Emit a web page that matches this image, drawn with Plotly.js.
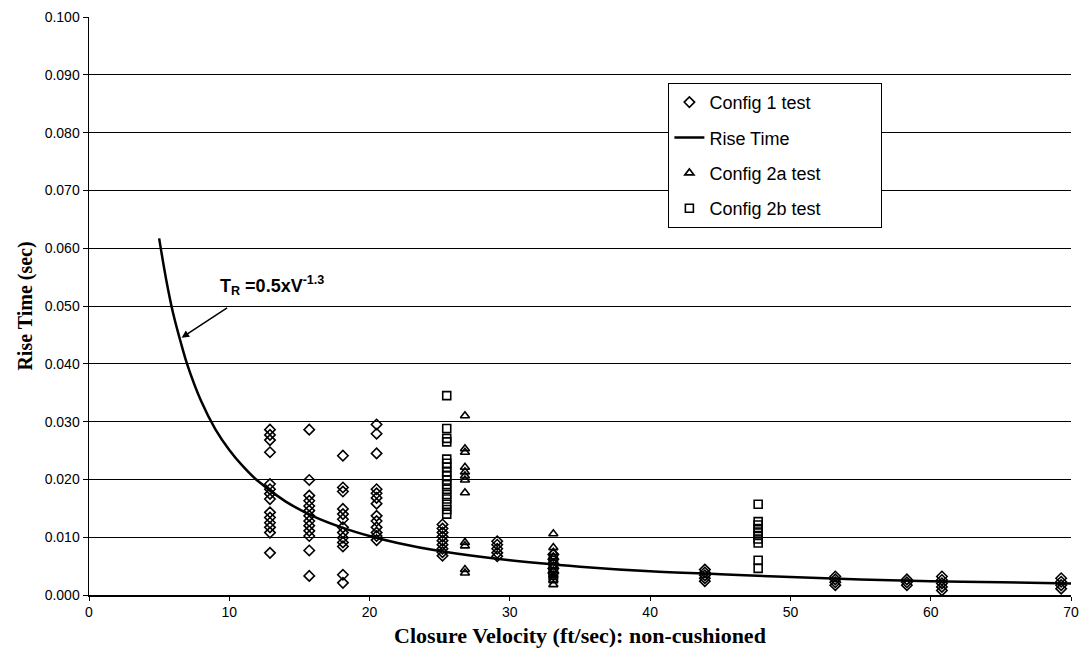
<!DOCTYPE html>
<html>
<head>
<meta charset="utf-8">
<script src="https://cdn.plot.ly/plotly-3.0.1.min.js"></script>
<style>html,body{margin:0;padding:0;background:#fff;}#chart{width:1084px;height:658px;}</style>
</head>
<body>
<div id="chart"></div>
<script>
// Config 1 test (diamonds)
const c1_x = [
  12.9,12.9,12.9,12.9,12.9,12.9,12.9,12.9,12.9,12.9,12.9,12.9,12.9,12.9,
  15.7,15.7,15.7,15.7,15.7,15.7,15.7,15.7,15.7,15.7,15.7,15.7,15.7,
  18.1,18.1,18.1,18.1,18.1,18.1,18.1,18.1,18.1,18.1,18.1,18.1,18.1,
  20.5,20.5,20.5,20.5,20.5,20.5,20.5,20.5,20.5,20.5,20.5,20.5,20.5,
  25.2,25.2,25.2,25.2,25.2,25.2,25.2,25.2,25.2,
  29.1,29.1,29.1,29.1,29.1,
  33.1,33.1,33.1,33.1,33.1,
  43.9,43.9,43.9,43.9,43.9,
  53.2,53.2,53.2,53.2,
  58.3,58.3,58.3,
  60.8,60.8,60.8,60.8,60.8,
  69.3,69.3,69.3,69.3
];
const c1_y = [
  0.0286,0.0277,0.0268,0.0247,0.0192,0.0183,0.0175,0.0166,0.0143,0.0134,0.0125,0.0117,0.0108,0.0073,
  0.0286,0.0199,0.0172,0.0163,0.0154,0.0146,0.0137,0.0128,0.0120,0.0111,0.0102,0.0077,0.0033,
  0.0241,0.0186,0.0179,0.0149,0.0140,0.0131,0.0117,0.0108,0.0099,0.0091,0.0084,0.0035,0.0021,
  0.0295,0.0279,0.0245,0.0183,0.0176,0.0168,0.0158,0.0137,0.0128,0.0117,0.0108,0.0102,0.0095,
  0.0122,0.0115,0.0108,0.0101,0.0094,0.0087,0.0080,0.0074,0.0068,
  0.0093,0.0087,0.0080,0.0073,0.0067,
  0.0070,0.0062,0.0054,0.0046,0.0038,
  0.0044,0.0039,0.0034,0.0029,0.0024,
  0.0032,0.0027,0.0022,0.0017,
  0.0027,0.0022,0.0017,
  0.0032,0.0026,0.0020,0.0014,0.0008,
  0.0029,0.0023,0.0017,0.0011
];
// Rise Time curve (T_R = 0.5 x V^-1.3)
const rt_x = [5, 5.5, 6, 6.6, 7, 8, 9, 10, 11, 12, 14, 16, 18, 20, 22, 25, 30, 35, 40, 45, 50, 55, 60, 65, 70];
const rt_y = [0.0617, 0.0546, 0.0487, 0.0432, 0.0399, 0.0335, 0.0287, 0.0251, 0.0222, 0.0198, 0.0162, 0.0136, 0.0117, 0.0102, 0.0090, 0.0076, 0.0060, 0.0049, 0.0041, 0.0036, 0.0031, 0.0027, 0.0024, 0.0022, 0.0020];
// Config 2a test (triangles)
const c2a_x = [
  26.8,26.8,26.8,26.8,26.8,26.8,26.8,26.8,26.8,26.8,26.8,26.8,
  33.1,33.1,33.1,33.1,33.1,33.1,33.1,33.1,33.1
];
const c2a_y = [
  0.0310,0.0253,0.0247,0.0221,0.0213,0.0206,0.0199,0.0177,0.0091,0.0085,0.0044,0.0038,
  0.0106,0.0082,0.0074,0.0066,0.0050,0.0042,0.0034,0.0026,0.0018
];
// Config 2b test (squares)
const c2b_x = [
  25.5,25.5,25.5,25.5,25.5,25.5,25.5,25.5,25.5,25.5,25.5,25.5,25.5,25.5,25.5,25.5,25.5,
  33.1,33.1,33.1,33.1,33.1,33.1,
  47.7,47.7,47.7,47.7,47.7,47.7,47.7,47.7,47.7,47.7
];
const c2b_y = [
  0.0345,0.0288,0.0271,0.0265,0.0235,0.0228,0.0221,0.0213,0.0206,0.0199,0.0191,0.0183,0.0174,0.0166,0.0157,0.0148,0.0140,
  0.0060,0.0053,0.0046,0.0040,0.0034,0.0028,
  0.0157,0.0127,0.0121,0.0115,0.0109,0.0103,0.0097,0.0090,0.0060,0.0046
];
const seriesNames = ['Config 1 test', 'Rise Time', 'Config 2a test', 'Config 2b test'];

const sans = 'Liberation Sans, Arial, sans-serif';
const serif = 'Liberation Serif, Times New Roman, serif';
const pad = '\u00a0'.repeat(11);

const traces = [
  {x: c1_x, y: c1_y, type: 'scatter', mode: 'markers', name: seriesNames[0], legendgroup: 'a',
   marker: {symbol: 'diamond-open', size: 8, color: '#000', line: {width: 1.6, color: '#000'}}},
  {x: rt_x, y: rt_y, type: 'scatter', mode: 'lines', name: seriesNames[1], legendgroup: 'b',
   line: {color: '#000', width: 2.5, shape: 'spline'}},
  {x: c2a_x, y: c2a_y, type: 'scatter', mode: 'markers', name: seriesNames[2] + pad, legendgroup: 'c',
   marker: {symbol: 'triangle-up-open', size: 8, color: '#000', line: {width: 1.6, color: '#000'}}},
  {x: c2b_x, y: c2b_y, type: 'scatter', mode: 'markers', name: seriesNames[3], legendgroup: 'd',
   marker: {symbol: 'square-open', size: 8, color: '#000', line: {width: 1.6, color: '#000'}}}
];

const layout = {
  width: 1084, height: 658,
  margin: {l: 89, r: 13, t: 17, b: 63},
  paper_bgcolor: '#fff', plot_bgcolor: '#fff',
  showlegend: true,
  font: {family: sans, color: '#000', size: 13},
  xaxis: {
    range: [0, 70], dtick: 10, tick0: 0,
    showgrid: false, zeroline: false,
    showline: true, linecolor: '#000', linewidth: 1.5,
    ticks: 'outside', ticklen: 4, tickcolor: '#000',
    tickfont: {family: sans, size: 14, color: '#000'},
    title: {text: 'Closure Velocity (ft/sec): non-cushioned', font: {family: serif, size: 22, weight: 'bold', color: '#000'}, standoff: 8}
  },
  yaxis: {
    range: [0, 0.1], dtick: 0.01, tick0: 0, tickformat: '.3f',
    showgrid: true, gridcolor: '#000', gridwidth: 1,
    zeroline: false,
    showline: true, linecolor: '#000', linewidth: 1.5,
    ticks: 'outside', ticklen: 5, tickcolor: '#000',
    tickfont: {family: sans, size: 14, color: '#000'},
    title: {text: 'Rise Time (sec)', font: {family: serif, size: 20, weight: 'bold', color: '#000'}, standoff: 6}
  },
  legend: {
    x: 0.59, y: 0.886, xanchor: 'left', yanchor: 'top',
    bgcolor: '#fff', bordercolor: '#000', borderwidth: 1,
    font: {family: sans, size: 18, color: '#000'},
    tracegroupgap: 9, itemwidth: 30
  },
  annotations: [
    {x: 6.6, y: 0.0445, xref: 'x', yref: 'y', text: '', showarrow: true,
     ax: 47, ay: -31, arrowhead: 2, arrowsize: 1, arrowwidth: 1.5, arrowcolor: '#000'},
    {x: 6.6, y: 0.0445, xref: 'x', yref: 'y', text: 'T<sub>R</sub> =0.5xV<sup>-1.3</sup>', showarrow: false,
     xshift: 90, yshift: 52, font: {family: sans, size: 18, weight: 'bold', color: '#000'}}
  ]
};

Plotly.newPlot('chart', traces, layout, {displayModeBar: false, staticPlot: true});
</script>
</body>
</html>
